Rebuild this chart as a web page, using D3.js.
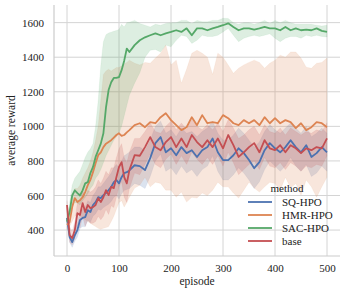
<!DOCTYPE html>
<html>
<head>
<meta charset="utf-8">
<script src="https://cdn.jsdelivr.net/npm/d3@7"></script>
<style>
  body { margin: 0; background: #fff; }
  svg, svg text { font-family: "Liberation Serif", "Times New Roman", serif; }
</style>
</head>
<body>
<div id="chart"></div>
<script>
// episodes sampled from the figure
const episodes = [0,5,10,15,20,25,30,35,40,45,50,55,60,65,70,75,80,85,90,95,100,105,110,115,120,
  130,140,150,160,170,180,190,200,210,220,230,240,250,260,270,280,290,300,310,320,330,340,350,360,370,380,390,400,410,420,430,440,450,460,470,480,490,500];

const methods = ["SQ-HPO", "HMR-HPO", "SAC-HPO", "base"];

// SQ-HPO
const sqMean = [470,360,330,370,400,458,470,475,515,504,545,562,590,585,602,614,631,650,677,690,670,706,730,735,745,
  775,770,747,816,903,938,850,873,833,880,845,862,823,862,880,930,850,805,805,833,873,845,805,758,793,862,903,873,850,880,920,880,850,891,823,845,880,850];
const sqUpper = [490,390,360,400,440,500,520,530,570,560,600,620,650,650,670,690,710,730,760,780,760,800,830,840,850,
  880,880,860,920,1000,1030,960,980,940,990,960,970,940,970,990,1030,960,920,920,950,990,960,920,880,910,970,1010,980,960,990,1020,990,960,1000,940,960,990,960];
const sqLower = [450,330,300,335,360,410,420,420,455,445,480,495,520,515,530,540,550,565,590,600,580,610,630,635,640,
  670,660,640,710,800,840,740,760,720,770,730,750,710,750,770,830,740,690,690,720,760,730,690,640,680,750,800,770,740,770,820,770,740,780,710,730,770,740];

// HMR-HPO
const hmrMean = [430,446,533,585,562,573,590,620,660,690,735,787,833,850,880,900,910,920,935,950,960,945,950,965,978,
  1007,1018,995,1024,1018,1053,1076,1036,1007,978,995,1053,1007,1065,1018,1024,1018,1065,1047,1018,1007,1036,1018,1036,1007,1053,1018,1047,1018,1036,1024,990,1018,978,995,1024,1018,995];
const hmrUpper = [450,520,600,640,640,660,700,730,760,800,850,920,1000,1150,1300,1320,1330,1320,1330,1340,1340,1350,1360,1370,1383,
  1365,1355,1370,1365,1395,1423,1470,1355,1383,1250,1330,1423,1440,1423,1400,1300,1423,1400,1355,1307,1336,1355,1370,1383,1370,1336,1365,1383,1412,1400,1430,1430,1395,1342,1336,1365,1370,1395];
const hmrLower = [400,420,450,480,490,480,470,460,450,440,430,420,410,405,410,415,420,450,480,520,560,570,533,560,590,
  643,660,706,650,677,670,631,631,590,620,562,590,585,614,600,631,677,650,650,614,585,631,677,643,620,650,677,670,631,706,643,670,602,690,650,590,650,706];

// SAC-HPO
const sacMean = [450,504,600,630,614,600,630,670,677,730,765,823,862,900,960,1110,1210,1255,1280,1280,1285,1325,1380,1450,1430,
  1470,1498,1515,1527,1538,1527,1538,1546,1556,1546,1567,1527,1567,1567,1556,1567,1575,1585,1596,1575,1556,1567,1567,1560,1567,1575,1567,1567,1556,1575,1556,1567,1556,1560,1556,1567,1552,1546];
const sacUpper = [470,560,660,700,720,740,780,820,850,870,900,1000,1150,1350,1490,1530,1540,1545,1550,1555,1560,1590,1575,1600,1602,
  1613,1595,1585,1575,1590,1585,1595,1600,1600,1613,1613,1595,1613,1605,1605,1613,1613,1625,1624,1600,1590,1600,1600,1590,1600,1613,1595,1613,1600,1613,1600,1590,1590,1590,1590,1585,1580,1585];
const sacLower = [430,470,540,560,555,545,570,590,610,640,660,700,720,750,790,830,860,890,920,940,960,1000,1060,1120,1180,
  1250,1310,1400,1440,1445,1430,1470,1460,1498,1527,1520,1480,1498,1527,1520,1520,1527,1546,1567,1527,1490,1510,1520,1527,1520,1527,1535,1510,1490,1510,1520,1520,1510,1527,1520,1527,1520,1517];

// base
const baseMean = [545,370,353,400,498,487,556,504,545,527,533,545,585,562,590,631,602,650,643,706,765,793,706,670,747,
  833,830,880,938,880,862,909,938,880,930,880,950,909,880,920,880,930,873,950,891,823,850,880,903,850,920,873,862,891,850,891,873,845,873,862,880,873,930];
const baseUpper = [570,420,390,450,560,560,630,590,630,620,630,650,690,670,700,740,720,760,760,820,870,900,820,790,850,
  930,930,970,1020,970,960,1000,1030,980,1020,980,1040,1000,980,1010,980,1020,970,1040,990,930,950,980,1000,950,1010,970,960,990,950,990,970,950,970,960,980,970,1020];
const baseLower = [520,330,315,350,430,410,480,420,460,440,440,450,480,460,480,520,490,540,530,590,650,680,590,560,640,
  730,720,780,840,780,760,810,840,780,830,780,850,810,780,820,780,830,770,850,790,720,750,780,800,750,820,770,760,790,750,790,770,740,770,760,780,770,830];

const xTicks = [0, 100, 200, 300, 400, 500];
const yTicks = [400, 600, 800, 1000, 1200, 1400, 1600];

const colors = ["#4c72b0", "#dd8452", "#55a868", "#c44e52"];
const series = [
  {name: methods[0], mean: sqMean, lo: sqLower, hi: sqUpper},
  {name: methods[1], mean: hmrMean, lo: hmrLower, hi: hmrUpper},
  {name: methods[2], mean: sacMean, lo: sacLower, hi: sacUpper},
  {name: methods[3], mean: baseMean, lo: baseLower, hi: baseUpper}
];

const W = 346, H = 291;
const margin = {left: 54, right: 340, top: 5, bottom: 256};
const serif = "'Liberation Serif', 'Times New Roman', serif";

const svg = d3.select("#chart").append("svg")
  .attr("width", W).attr("height", H);

const x = d3.scaleLinear().domain([-25, 525]).range([margin.left, margin.right]);
const y = d3.scaleLinear().domain([250, 1702]).range([margin.bottom, margin.top]);

// grid
const grid = svg.append("g");
grid.selectAll(".gx").data(xTicks).enter().append("line")
  .attr("x1", d => x(d)).attr("x2", d => x(d))
  .attr("y1", margin.top).attr("y2", margin.bottom)
  .attr("stroke", "#d4d4d4").attr("stroke-width", 1);
grid.selectAll(".gy").data(yTicks).enter().append("line")
  .attr("x1", margin.left).attr("x2", margin.right)
  .attr("y1", d => y(d)).attr("y2", d => y(d))
  .attr("stroke", "#d4d4d4").attr("stroke-width", 1);

// spines (left, bottom)
svg.append("line").attr("x1", margin.left).attr("x2", margin.left)
  .attr("y1", margin.top).attr("y2", margin.bottom)
  .attr("stroke", "#cccccc").attr("stroke-width", 1.2);
svg.append("line").attr("x1", margin.left).attr("x2", margin.right)
  .attr("y1", margin.bottom).attr("y2", margin.bottom)
  .attr("stroke", "#cccccc").attr("stroke-width", 1.2);

// bands
const area = d3.area()
  .x((d, i) => x(episodes[i]))
  .y0(d => y(d[0]))
  .y1(d => y(d[1]));

series.forEach((s, k) => {
  svg.append("path")
    .datum(s.lo.map((v, i) => [v, s.hi[i]]))
    .attr("fill", colors[k])
    .attr("fill-opacity", 0.2)
    .attr("stroke", colors[k])
    .attr("stroke-opacity", 0.15)
    .attr("stroke-width", 0.5)
    .attr("d", area);
});

// mean lines
const line = d3.line()
  .x((d, i) => x(episodes[i]))
  .y(d => y(d));

series.forEach((s, k) => {
  svg.append("path")
    .datum(s.mean)
    .attr("fill", "none")
    .attr("stroke", colors[k])
    .attr("stroke-width", 1.8)
    .attr("stroke-linejoin", "round")
    .attr("d", line);
});

// axes (tick labels only, no tick marks)
const xAxis = svg.append("g")
  .attr("transform", "translate(0," + margin.bottom + ")")
  .call(d3.axisBottom(x).tickValues(xTicks).tickFormat(d3.format("d")).tickSize(0).tickPadding(8));
xAxis.attr("font-family", serif).attr("font-size", 11);
xAxis.select(".domain").remove();
xAxis.selectAll("text").attr("fill", "#222");

const yAxis = svg.append("g")
  .attr("transform", "translate(" + margin.left + ",0)")
  .call(d3.axisLeft(y).tickValues(yTicks).tickFormat(d3.format("d")).tickSize(0).tickPadding(10));
yAxis.attr("font-family", serif).attr("font-size", 11);
yAxis.select(".domain").remove();
yAxis.selectAll("text").attr("fill", "#222");

// axis labels
svg.append("text")
  .attr("x", (margin.left + margin.right) / 2).attr("y", 285)
  .attr("text-anchor", "middle")
  .attr("font-size", 11.5).attr("fill", "#222")
  .text("episode");

svg.append("text")
  .attr("transform", "translate(15," + ((margin.top + margin.bottom) / 2) + ") rotate(-90)")
  .attr("text-anchor", "middle")
  .attr("font-size", 11.5).attr("fill", "#222")
  .text("average reward");

// legend
const lg = svg.append("g");
lg.append("text")
  .attr("x", 287).attr("y", 191.5)
  .attr("text-anchor", "middle")
  .attr("font-size", 11).attr("fill", "#222")
  .text("method");

const rowY = [202, 215, 228, 241];
methods.forEach((m, k) => {
  lg.append("line")
    .attr("x1", 248).attr("x2", 272)
    .attr("y1", rowY[k]).attr("y2", rowY[k])
    .attr("stroke", colors[k]).attr("stroke-width", 1.8);
  lg.append("text")
    .attr("x", 282).attr("y", rowY[k] + 3.8)
    .attr("font-size", 11).attr("fill", "#222")
    .text(m);
});
</script>
</body>
</html>
